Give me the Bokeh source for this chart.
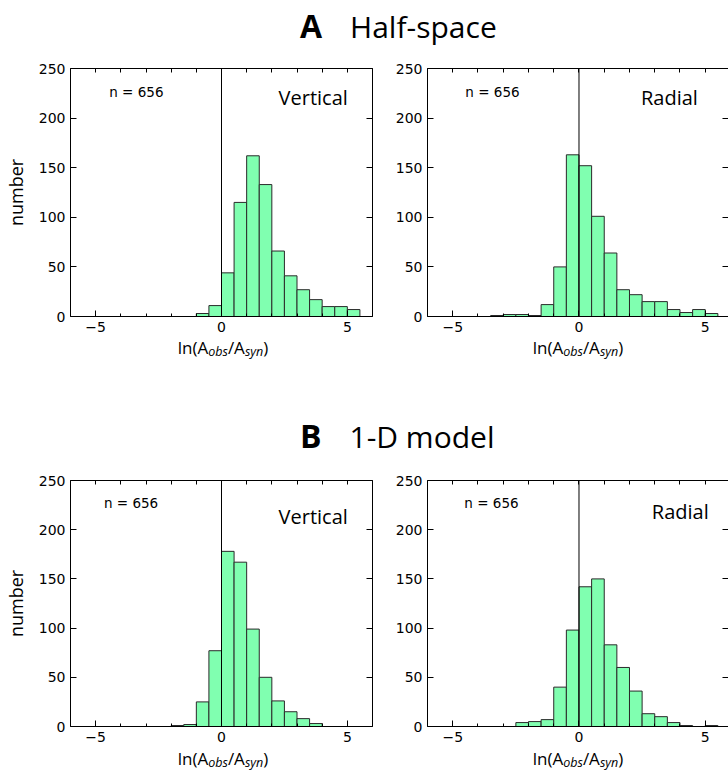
import numpy as np
from bokeh.plotting import figure
from bokeh.models import ColumnDataSource, FixedTicker, LinearAxis, Span, Label, Div, Range1d
from bokeh.layouts import column, row
from bokeh.embed import file_html
from bokeh.resources import INLINE

# ---------------- data ----------------
BIN_EDGES = [-6.0, -5.5, -5.0, -4.5, -4.0, -3.5, -3.0, -2.5, -2.0, -1.5, -1.0, -0.5,
             0.0, 0.5, 1.0, 1.5, 2.0, 2.5, 3.0, 3.5, 4.0, 4.5, 5.0, 5.5, 6.0]

COUNTS_A_VERTICAL = [0, 0, 0, 0, 0, 0, 0, 0, 0, 0, 3, 11, 44, 115, 162, 133, 66, 41, 27, 17, 10, 10, 7, 0]
COUNTS_A_RADIAL = [0, 0, 0, 0, 0, 1, 2, 2, 1, 12, 50, 163, 152, 101, 64, 27, 22, 15, 15, 7, 4, 7, 3, 0]
COUNTS_B_VERTICAL = [0, 0, 0, 0, 0, 0, 0, 0, 1, 2, 25, 77, 178, 167, 99, 50, 26, 15, 8, 3, 0, 0, 0, 0]
COUNTS_B_RADIAL = [0, 0, 0, 0, 0, 0, 0, 4, 5, 7, 40, 98, 142, 150, 83, 60, 36, 13, 10, 4, 1, 0, 1, 0]

X_TICKS = [-5, 0, 5]
X_TICK_LABELS = ["\u22125", "0", "5"]
X_MINOR_TICKS = [-6, -5, -4, -3, -2, -1, 0, 1, 2, 3, 4, 5, 6]
Y_TICKS = [0, 50, 100, 150, 200, 250]
Y_TICK_LABELS = ["0", "50", "100", "150", "200", "250"]

N_TEXT = "n = 656"
COMPONENTS = ["Vertical", "Radial"]
PANEL_TITLES = [("A", "Half-space"), ("B", "1-D model")]
Y_LABEL = "number"

# ---------------- style ----------------
FILL = "#80ffb0"
EDGE = "#2a2a2a"
TICK_FONT = "DejaVu Sans"
LABEL_FONT = "Open Sans"


def make_panel(counts, comp, left_side, height, n_pos, comp_pos, comp_align):
    if left_side:
        width, bl, br = 392, 67, 20
        xr = Range1d(-6, 6)
    else:
        width, bl, br = 336, 33, 0
        xr = Range1d(-6, -6 + 303 * 12 / 305)
    p = figure(width=width, height=height, x_range=xr, y_range=Range1d(0, 250),
               output_backend="svg", toolbar_location=None,
               min_border_left=bl, min_border_right=br, min_border_top=12, min_border_bottom=22)
    p.outline_line_color = None
    p.grid.visible = False
    p.background_fill_color = "white"
    p.border_fill_color = "white"

    def style(ax, ticker, overrides=None, line=True):
        ax.ticker = ticker
        ax.major_tick_in = 6
        ax.major_tick_out = 0
        ax.minor_tick_in = 3
        ax.minor_tick_out = 0
        ax.major_tick_line_color = "black"
        ax.minor_tick_line_color = "black"
        ax.axis_line_color = "black" if line else None
        ax.axis_line_width = 1
        ax.major_label_text_font = TICK_FONT
        ax.major_label_text_font_size = "14px"
        ax.major_label_text_color = "black"
        ax.major_label_standoff = 5
        if overrides:
            ax.major_label_overrides = overrides

    style(p.xaxis[0], FixedTicker(ticks=X_TICKS, minor_ticks=X_MINOR_TICKS),
          overrides={t: l for t, l in zip(X_TICKS, X_TICK_LABELS)})
    style(p.yaxis[0], FixedTicker(ticks=Y_TICKS, minor_ticks=[]),
          overrides={t: l for t, l in zip(Y_TICKS, Y_TICK_LABELS)})

    # top and right spines: tick marks only (minor-only tickers -> no labels)
    top = LinearAxis()
    style(top, FixedTicker(ticks=[], minor_ticks=X_MINOR_TICKS))
    top.minor_tick_in = 4
    p.add_layout(top, "above")
    right = LinearAxis()
    style(right, FixedTicker(ticks=[], minor_ticks=Y_TICKS), line=left_side)
    right.minor_tick_in = 6
    p.add_layout(right, "right")

    if left_side:
        p.yaxis[0].axis_label = Y_LABEL
        p.yaxis[0].axis_label_text_font = LABEL_FONT
        p.yaxis[0].axis_label_text_font_size = "18px"
        p.yaxis[0].axis_label_text_font_style = "normal"
        p.yaxis[0].axis_label_text_color = "black"
        p.yaxis[0].axis_label_standoff = 8

    lefts = [BIN_EDGES[i] for i, c in enumerate(counts) if c > 0]
    rights = [BIN_EDGES[i + 1] for i, c in enumerate(counts) if c > 0]
    tops = [c for c in counts if c > 0]
    src = ColumnDataSource(dict(left=lefts, right=rights, top=tops))
    p.quad(left="left", right="right", top="top", bottom=0, source=src,
           fill_color=FILL, line_color=EDGE, line_width=1)

    p.add_layout(Span(location=0, dimension="height", line_color="black", line_width=1))
    p.add_layout(Label(x=n_pos[0], y=n_pos[1], text=N_TEXT, text_font=TICK_FONT,
                       text_font_size="13.5px", text_baseline="middle", text_align="left",
                       text_color="black"))
    p.add_layout(Label(x=comp_pos[0], y=comp_pos[1], text=comp, text_font=LABEL_FONT,
                       text_font_size="20px", text_baseline="middle", text_align=comp_align,
                       text_color="black"))
    return p


pa1 = make_panel(COUNTS_A_VERTICAL, COMPONENTS[0], True, 282, (-4.46, 226), (5.02, 221), "right")
pa2 = make_panel(COUNTS_A_RADIAL, COMPONENTS[1], False, 282, (-4.5, 226), (4.71, 221), "right")
pb1 = make_panel(COUNTS_B_VERTICAL, COMPONENTS[0], True, 280, (-4.67, 227), (5.02, 213), "right")
pb2 = make_panel(COUNTS_B_RADIAL, COMPONENTS[1], False, 280, (-4.54, 227), (5.14, 218), "right")

XLABEL_HTML = ('ln(A<span style="font-size:12.5px;font-style:italic;vertical-align:-2px;">obs</span>'
               '/A<span style="font-size:12.5px;font-style:italic;vertical-align:-2px;">syn</span>)')


def title_html(letter, name, top):
    return ('<div style="position:absolute;left:300px;top:%dpx;white-space:nowrap;'
            'font-family:\'Open Sans\';font-size:30px;line-height:36px;color:black;">'
            '<span style="font-weight:bold;font-size:32px;">%s</span>'
            '<span style="display:inline-block;width:28px;"></span>%s</div>' % (top, letter, name))


def xlabel_html(center, top):
    return ('<div style="position:absolute;left:%dpx;top:%dpx;width:200px;text-align:center;'
            'white-space:nowrap;font-family:\'Open Sans\';font-size:17px;line-height:20px;color:black;">'
            '%s</div>' % (center - 100, top, XLABEL_HTML))


def box(inner, h):
    return ('<div style="position:relative;width:728px;height:%dpx;">%s</div>' % (h, inner))


div_top = Div(text=box(title_html(PANEL_TITLES[0][0], PANEL_TITLES[0][1], 8), 56),
              width=728, height=56, margin=0)
div_mid = Div(text=box(xlabel_html(223, 0) + xlabel_html(578, 0)
                       + title_html(PANEL_TITLES[1][0], PANEL_TITLES[1][1], 80), 130),
              width=728, height=130, margin=0)
div_bot = Div(text=box(xlabel_html(223, 1) + xlabel_html(578, 1), 23),
              width=728, height=23, margin=0)

layout = column(div_top, row(pa1, pa2), div_mid, row(pb1, pb2), div_bot, spacing=0)

with open("out.html", "w") as f:
    f.write(file_html(layout, INLINE))
